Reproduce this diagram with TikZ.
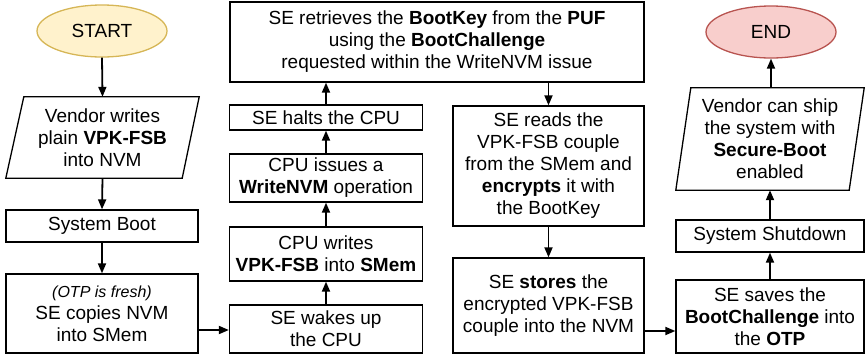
\documentclass[tikz,border=0pt]{standalone}
\usepackage{fontspec}
\setmainfont{Liberation Sans}
\usetikzlibrary{arrows.meta,calc,shapes.geometric}
\definecolor{startfill}{HTML}{FFF2CC}
\definecolor{startline}{HTML}{D6B656}
\definecolor{endfill}{HTML}{F8CECC}
\definecolor{endline}{HTML}{B85450}
\begin{document}
\begin{tikzpicture}[x=1pt,y=-1pt,
  font=\fontsize{19}{22}\selectfont,
  box/.style={draw, line width=1.3pt, align=center, inner sep=0pt},
  txt/.style={align=center, inner sep=0pt},
  term/.style={ellipse, draw, line width=1.3pt, inner sep=0pt, minimum width=130pt, minimum height=52pt},
  arr/.style={line width=1.8pt, -{Triangle[length=10pt,width=8pt]}},
  para/.style={line width=1.3pt, line join=miter}]
\useasboundingbox (0,0) rectangle (865,357);

% left column
\node[term, fill=startfill, draw=startline] (start) at (102,31) {START};
\node[txt, minimum width=193pt, minimum height=81pt] (vend) at (102.5,137.5) {Vendor writes\\plain \textbf{VPK-FSB}\\into NVM};
\draw[para] (vend.south west) -- ($(vend.north west)+(18,0)$) -- (vend.north east) -- ($(vend.south east)+(-17,0)$) -- cycle;
\node[box, minimum width=192pt, minimum height=32pt] (sysboot) at (102,226) {System Boot};
\node[box, minimum width=192pt, minimum height=79pt] (secopy) at (102,313.5) {{\fontsize{16}{20}\selectfont\itshape (OTP is fresh)}\\SE copies NVM\\into SMem};

% middle column
\node[box, minimum width=414pt, minimum height=80pt] (top) at (437,42) {SE retrieves the \textbf{BootKey} from the \textbf{PUF}\\using the \textbf{BootChallenge}\\requested within the WriteNVM issue};
\node[box, minimum width=193pt, minimum height=25pt] (sehalt) at (326,117.5) {SE halts the CPU};
\node[box, minimum width=193pt, minimum height=48pt] (cpuissue) at (326,178) {CPU issues a\\\textbf{WriteNVM} operation};
\node[box, minimum width=193pt, minimum height=54pt] (cpuwrite) at (326,254) {CPU writes\\\textbf{VPK-FSB} into \textbf{SMem}};
\node[box, minimum width=193pt, minimum height=48pt] (sewake) at (326,329) {SE wakes up\\the CPU};

% third column
\node[box, minimum width=191pt, minimum height=120pt] (seread) at (548.5,166) {SE reads the\\VPK-FSB couple\\from the SMem and\\\textbf{encrypts} it with\\the BootKey};
\node[box, minimum width=191pt, minimum height=95pt] (sestore) at (548.5,305.5) {SE \textbf{stores} the\\encrypted VPK-FSB\\couple into the NVM};

% right column
\node[term, fill=endfill, draw=endline] (end) at (771,32) {END};
\node[txt, minimum width=188pt, minimum height=102pt] (ship) at (770,139) {Vendor can ship\\the system with\\\textbf{Secure-Boot}\\enabled};
\draw[para] (ship.south west) -- ($(ship.north west)+(15,0)$) -- (ship.north east) -- ($(ship.south east)+(-15,0)$) -- cycle;
\node[box, minimum width=188pt, minimum height=32pt] (shutdown) at (770,236) {System Shutdown};
\node[box, minimum width=188pt, minimum height=73pt] (sesave) at (770,316.5) {SE saves the\\\textbf{BootChallenge} into\\the \textbf{OTP}};

% connectors
\coordinate (r1) at (0,330);
\coordinate (r2) at (0,331);
\draw[arr] (start.south) -- (vend.north);
\draw[arr] (vend.south) -- (sysboot.north);
\draw[arr] (sysboot.south) -- (secopy.north);
\draw[arr] (secopy.east |- r1) -- (sewake.west |- r1);
\draw[arr] (sewake.north) -- (cpuwrite.south);
\draw[arr] (cpuwrite.north) -- (cpuissue.south);
\draw[arr] (cpuissue.north) -- (sehalt.south);
\draw[arr] (sehalt.north) -- (sehalt.north |- top.south);
\draw[arr] (top.south -| seread.north) -- (seread.north);
\draw[arr] (seread.south) -- (sestore.north);
\draw[arr] (sestore.east |- r2) -- (sesave.west |- r2);
\draw[arr] (sesave.north) -- (shutdown.south);
\draw[arr] (shutdown.north) -- (ship.south);
\draw[arr] (ship.north -| end.south) -- (end.south);
\end{tikzpicture}
\end{document}
